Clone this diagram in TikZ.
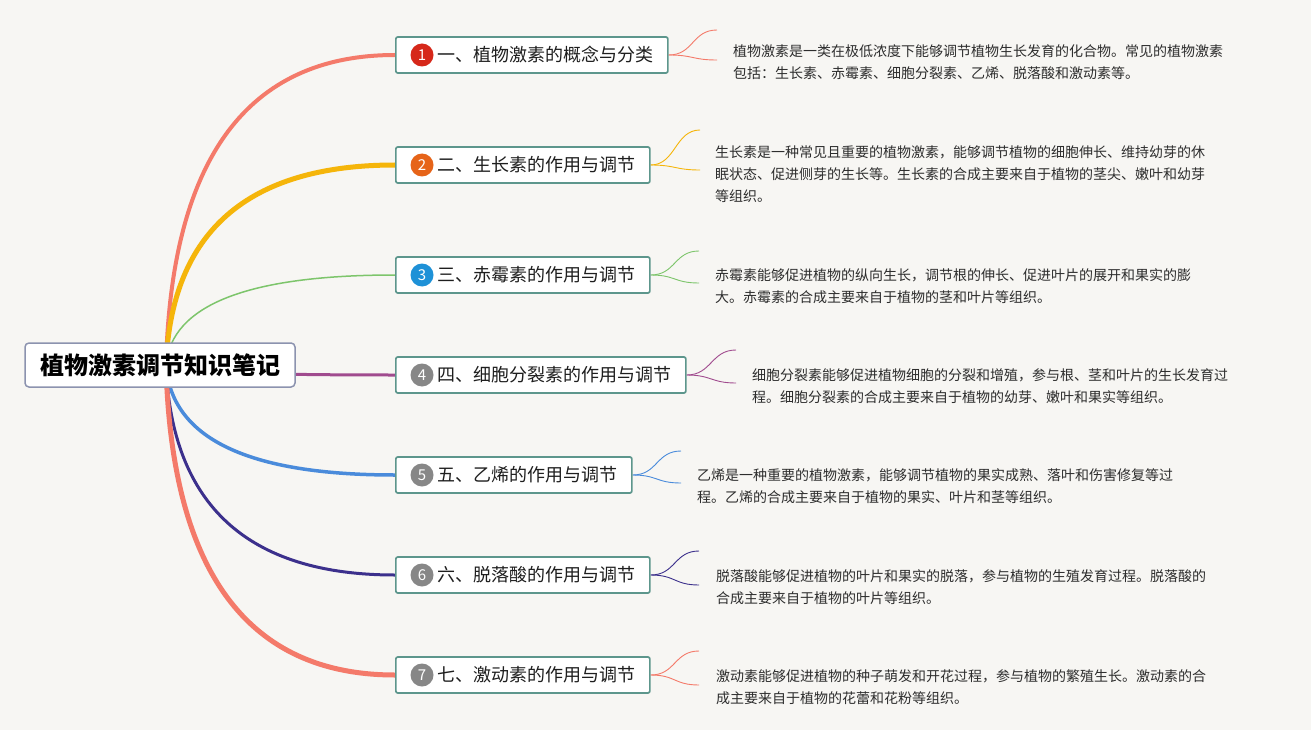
\documentclass[tikz,border=0pt]{standalone}
\usepackage{fontspec}
\setmainfont{Noto Sans CJK SC}
\usetikzlibrary{backgrounds,calc}
\definecolor{bgc}{RGB}{247,246,243}
\definecolor{rootborder}{RGB}{140,147,175}
\definecolor{boxborder}{RGB}{93,150,140}
\definecolor{cA}{RGB}{244,122,106}
\definecolor{cB}{RGB}{245,181,10}
\definecolor{cC}{RGB}{125,197,107}
\definecolor{cD}{RGB}{160,75,142}
\definecolor{cE}{RGB}{74,139,219}
\definecolor{cF}{RGB}{60,48,140}
\definecolor{bRed}{RGB}{214,40,26}
\definecolor{bOrange}{RGB}{230,100,25}
\definecolor{bBlue}{RGB}{30,145,215}
\definecolor{bGray}{RGB}{135,135,135}
\definecolor{txt}{RGB}{30,30,30}
\definecolor{notetxt}{RGB}{45,45,45}
\tikzset{
  rootbox/.style={draw=rootborder, line width=1.5pt, fill=white, rounded corners=4pt,
    minimum width=270pt, minimum height=44pt, inner sep=0pt,
    font=\fontsize{24}{28}\selectfont\bfseries, text=black},
  branchbox/.style={draw=boxborder, line width=1.7pt, fill=white, rounded corners=2pt,
    minimum height=36pt, inner xsep=0pt, inner ysep=0pt, anchor=west,
    font=\fontsize{18}{22}\selectfont, text=txt},
  badge/.style={circle, inner sep=0pt, minimum size=23pt, text=white,
    font=\fontsize{15}{15}\selectfont},
  note/.style={anchor=north west, inner sep=0pt, align=left,
    font=\fontsize{14}{22}\selectfont, text=notetxt},
  limb/.style={line cap=round},
  twig/.style={line width=0.9pt},
}
\newcommand{\btxt}[1]{\hspace*{42pt}#1\hspace*{14pt}}
\begin{document}
\begin{tikzpicture}[x=1pt,y=-1pt]
% root
\node[rootbox] (root) at (160,365) {植物激素调节知识笔记};
\coordinate (hub) at (166,365);
% branches
\node[branchbox] (b1) at (395,55)  {\btxt{一、植物激素的概念与分类}};
\node[branchbox] (b2) at (395,165) {\btxt{二、生长素的作用与调节}};
\node[branchbox] (b3) at (395,275) {\btxt{三、赤霉素的作用与调节}};
\node[branchbox] (b4) at (395,375) {\btxt{四、细胞分裂素的作用与调节}};
\node[branchbox] (b5) at (395,475) {\btxt{五、乙烯的作用与调节}};
\node[branchbox] (b6) at (395,575) {\btxt{六、脱落酸的作用与调节}};
\node[branchbox] (b7) at (395,675) {\btxt{七、激动素的作用与调节}};
% badges
\node[badge, fill=bRed]    (n1) at (422,55)  {1};
\node[badge, fill=bOrange] (n2) at (422,165) {2};
\node[badge, fill=bBlue]   (n3) at (422,275) {3};
\node[badge, fill=bGray]   (n4) at (422,375) {4};
\node[badge, fill=bGray]   (n5) at (422,475) {5};
\node[badge, fill=bGray]   (n6) at (422,575) {6};
\node[badge, fill=bGray]   (n7) at (422,675) {7};
% notes
\node[note] (t1) at (733,44) {植物激素是一类在极低浓度下能够调节植物生长发育的化合物。常见的植物激素\\包括：生长素、赤霉素、细胞分裂素、乙烯、脱落酸和激动素等。};
\node[note] (t2) at (715,145) {生长素是一种常见且重要的植物激素，能够调节植物的细胞伸长、维持幼芽的休\\眠状态、促进侧芽的生长等。生长素的合成主要来自于植物的茎尖、嫩叶和幼芽\\等组织。};
\node[note] (t3) at (715,268) {赤霉素能够促进植物的纵向生长，调节根的伸长、促进叶片的展开和果实的膨\\大。赤霉素的合成主要来自于植物的茎和叶片等组织。};
\node[note] (t4) at (752,368) {细胞分裂素能够促进植物细胞的分裂和增殖，参与根、茎和叶片的生长发育过\\程。细胞分裂素的合成主要来自于植物的幼芽、嫩叶和果实等组织。};
\node[note] (t5) at (697,468) {乙烯是一种重要的植物激素，能够调节植物的果实成熟、落叶和伤害修复等过\\程。乙烯的合成主要来自于植物的果实、叶片和茎等组织。};
\node[note] (t6) at (716,569) {脱落酸能够促进植物的叶片和果实的脱落，参与植物的生殖发育过程。脱落酸的\\合成主要来自于植物的叶片等组织。};
\node[note] (t7) at (716,669) {激动素能够促进植物的种子萌发和开花过程，参与植物的繁殖生长。激动素的合\\成主要来自于植物的花蕾和花粉等组织。};
% bracket end points
\coordinate (u1) at (717,30);  \coordinate (l1) at (717,60);
\coordinate (u2) at (700,130); \coordinate (l2) at (700,170);
\coordinate (u3) at (699,251); \coordinate (l3) at (699,283);
\coordinate (u4) at (736,350); \coordinate (l4) at (736,383);
\coordinate (u5) at (681,451); \coordinate (l5) at (681,483);
\coordinate (u6) at (699,551); \coordinate (l6) at (699,585);
\coordinate (u7) at (699,651); \coordinate (l7) at (699,685);
% quadratic control points
\coordinate (q1) at (174,55);
\coordinate (q2) at (174,165);
\coordinate (q3) at (174,275);
\coordinate (q4) at (174,375);
\coordinate (q5) at (174,475);
\coordinate (q6) at (174,575);
\coordinate (q7) at (174,675);
\begin{scope}[on background layer]
\fill[bgc] (0,0) rectangle (1311,730);
\foreach \i/\c/\w in {1/cA/4,2/cB/5,3/cC/1.5,4/cD/3,5/cE/3.5,6/cF/3,7/cA/5}{
  \draw[limb, \c, line width=\w pt] (hub) .. controls ($(hub)!0.6667!(q\i)$) and ($(b\i.west)!0.6667!(q\i)$) .. (b\i.west);
  \draw[twig, \c] (b\i.east) .. controls +(25,0) and +(-25,0) .. (u\i);
  \draw[twig, \c] (b\i.east) .. controls +(25,0) and +(-25,0) .. (l\i);
}
\end{scope}
\end{tikzpicture}
\end{document}
